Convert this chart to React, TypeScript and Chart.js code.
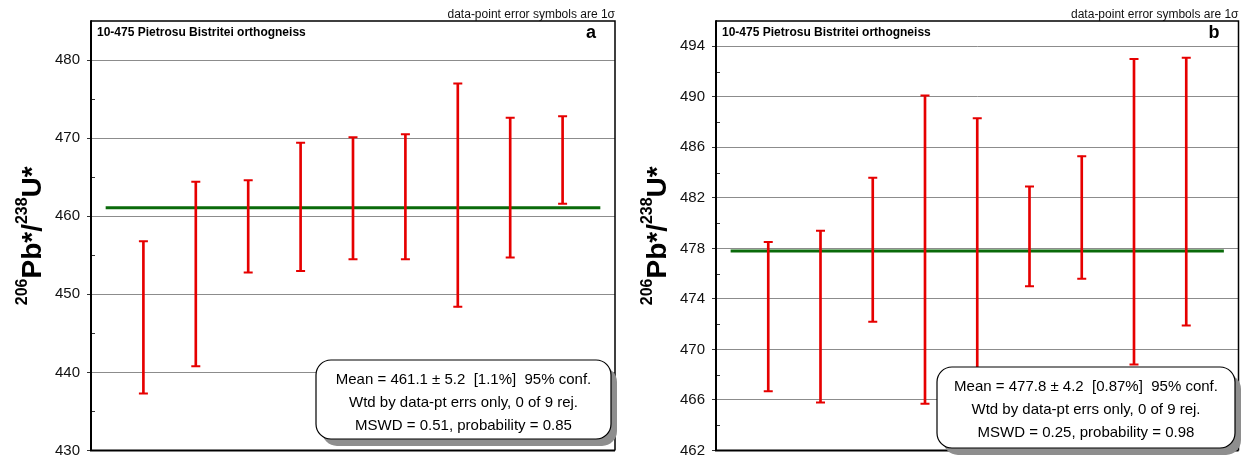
import React, { useEffect, useRef } from "react";
import { Chart, registerables } from "chart.js";

Chart.register(...registerables);

// ---------- data ----------
const positions = [1, 2, 3, 4, 5, 6, 7, 8, 9];

const leftHigh = [456.8, 464.4, 464.6, 469.4, 470.1, 470.5, 477.0, 472.6, 472.8];
const leftLow = [437.3, 440.8, 452.8, 453.0, 454.5, 454.5, 448.4, 454.7, 461.6];
const leftMean = 461.1;

const rightHigh = [478.5, 479.4, 483.6, 490.1, 488.3, 482.9, 485.3, 493.0, 493.1];
const rightLow = [466.7, 465.8, 472.2, 465.7, 466.4, 475.0, 475.6, 468.8, 471.9];
const rightMean = 477.8;

const meanSpan = [0.28, 9.72];

const leftTicks = { min: 430, max: 485, step: 5, major: 10 };
const rightTicks = { min: 462, max: 496, step: 2, major: 4 };

const sampleTitle = "10-475 Pietrosu Bistritei orthogneiss";
const sigmaNote = "data-point error symbols are 1σ";
const leftStats = [
  "Mean = 461.1 ± 5.2  [1.1%]  95% conf.",
  "Wtd by data-pt errs only, 0 of 9 rej.",
  "MSWD = 0.51, probability = 0.85",
];
const rightStats = [
  "Mean = 477.8 ± 4.2  [0.87%]  95% conf.",
  "Wtd by data-pt errs only, 0 of 9 rej.",
  "MSWD = 0.25, probability = 0.98",
];
const titleParts: [string, boolean][] = [
  ["206", true],
  ["Pb*/", false],
  ["238", true],
  ["U*", false],
];

// ---------- styling ----------
const FONT = "'Liberation Sans', Arial, Helvetica, sans-serif";
const RED = "#e60000";
const GREEN = "#0a6a0a";
const GRID = "#8c8c8c";

type PanelCfg = {
  high: number[];
  low: number[];
  mean: number;
  ticks: { min: number; max: number; step: number; major: number };
  letter: string;
  stats: string[];
  canvasLeft: number;
  canvasWidth: number;
  yWidth: number;
  padRight: number;
  box: { left: number; top: number; w: number; h: number };
};

const panels: PanelCfg[] = [
  {
    high: leftHigh,
    low: leftLow,
    mean: leftMean,
    ticks: leftTicks,
    letter: "a",
    stats: leftStats,
    canvasLeft: 0,
    canvasWidth: 622,
    yWidth: 91,
    padRight: 7,
    box: { left: 225, top: 339, w: 295, h: 79 },
  },
  {
    high: rightHigh,
    low: rightLow,
    mean: rightMean,
    ticks: rightTicks,
    letter: "b",
    stats: rightStats,
    canvasLeft: 622,
    canvasWidth: 623,
    yWidth: 94,
    padRight: 6,
    box: { left: 221, top: 346, w: 298, h: 81 },
  },
];

const isMajor = (v: number, t: PanelCfg["ticks"]) =>
  Math.abs(((v - t.min) % t.major + t.major) % t.major) < 1e-6;

function roundRect(ctx: CanvasRenderingContext2D, x: number, y: number, w: number, h: number, r: number) {
  ctx.beginPath();
  ctx.moveTo(x + r, y);
  ctx.lineTo(x + w - r, y);
  ctx.arcTo(x + w, y, x + w, y + r, r);
  ctx.lineTo(x + w, y + h - r);
  ctx.arcTo(x + w, y + h, x + w - r, y + h, r);
  ctx.lineTo(x + r, y + h);
  ctx.arcTo(x, y + h, x, y + h - r, r);
  ctx.lineTo(x, y + r);
  ctx.arcTo(x, y, x + r, y, r);
  ctx.closePath();
}

function decorPlugin(p: PanelCfg) {
  return {
    id: "decor",
    afterDraw(chart: any) {
      const { ctx, chartArea: a, scales } = chart;
      const ys = scales.y;
      ctx.save();

      // minor ticks drawn inside the axis
      ctx.strokeStyle = "#333";
      ctx.lineWidth = 1;
      ys.ticks.forEach((t: any) => {
        if (isMajor(t.value, p.ticks) || t.value === p.ticks.max) return;
        const py = Math.round(ys.getPixelForValue(t.value)) + 0.5;
        ctx.beginPath();
        ctx.moveTo(a.left, py);
        ctx.lineTo(a.left + 4, py);
        ctx.stroke();
      });

      // frame
      ctx.strokeStyle = "#000";
      ctx.lineWidth = 1.5;
      ctx.beginPath();
      ctx.moveTo(a.left, a.top);
      ctx.lineTo(a.right, a.top);
      ctx.lineTo(a.right, a.bottom);
      ctx.stroke();
      ctx.lineWidth = 2;
      ctx.beginPath();
      ctx.moveTo(a.left, a.top - 0.75);
      ctx.lineTo(a.left, a.bottom);
      ctx.lineTo(a.right, a.bottom);
      ctx.stroke();

      // header texts
      ctx.fillStyle = "#000";
      ctx.textBaseline = "alphabetic";
      ctx.textAlign = "left";
      ctx.font = `bold 12px ${FONT}`;
      ctx.fillText(sampleTitle, a.left + 6, a.top + 15);
      ctx.textAlign = "right";
      ctx.font = `bold 18px ${FONT}`;
      ctx.fillText(p.letter, a.right - 19, a.top + 17);
      ctx.font = `12px ${FONT}`;
      ctx.fillStyle = "#111";
      ctx.fillText(sigmaNote, a.right, a.top - 3.5);

      // stats box with shadow
      const bx = a.left + p.box.left;
      const by = a.top + p.box.top;
      ctx.fillStyle = "#8e8e8e";
      roundRect(ctx, bx + 6, by + 7, p.box.w, p.box.h, 15);
      ctx.fill();
      ctx.fillStyle = "#fff";
      roundRect(ctx, bx, by, p.box.w, p.box.h, 15);
      ctx.fill();
      ctx.strokeStyle = "#000";
      ctx.lineWidth = 1.2;
      ctx.stroke();
      ctx.fillStyle = "#000";
      ctx.textAlign = "center";
      ctx.font = `15px ${FONT}`;
      p.stats.forEach((s, i) => {
        ctx.fillText(s, bx + p.box.w / 2, by + 24 + i * 23);
      });

      // y-axis title
      const mainFont = `bold 28px ${FONT}`;
      const supFont = `bold 16px ${FONT}`;
      let total = 0;
      titleParts.forEach(([t, sup]) => {
        ctx.font = sup ? supFont : mainFont;
        total += ctx.measureText(t).width;
      });
      ctx.translate(a.left - 50, (a.top + a.bottom) / 2);
      ctx.rotate(-Math.PI / 2);
      ctx.textAlign = "left";
      let x = -total / 2;
      titleParts.forEach(([t, sup]) => {
        ctx.font = sup ? supFont : mainFont;
        ctx.fillText(t, x, sup ? -14 : 0);
        x += ctx.measureText(t).width;
      });

      ctx.restore();
    },
  };
}

function Panel({ cfg }: { cfg: PanelCfg }) {
  const ref = useRef<HTMLCanvasElement>(null);

  useEffect(() => {
    if (!ref.current) return;
    const t = cfg.ticks;
    const chart = new Chart(ref.current, {
      type: "bar",
      data: {
        datasets: [
          {
            type: "line",
            data: meanSpan.map((x) => ({ x, y: cfg.mean })),
            borderColor: GREEN,
            borderWidth: 3,
            pointRadius: 0,
            order: 5,
          } as any,
          {
            type: "bar",
            data: positions.map((x, i) => ({ x, y: [cfg.low[i], cfg.high[i]] })),
            backgroundColor: RED,
            borderWidth: 0,
            barThickness: 2,
            order: 2,
          } as any,
          {
            type: "scatter",
            data: positions.map((x, i) => ({ x, y: cfg.high[i] })),
            pointStyle: "line",
            pointRadius: 4.5,
            borderColor: RED,
            borderWidth: 2,
            order: 1,
          } as any,
          {
            type: "scatter",
            data: positions.map((x, i) => ({ x, y: cfg.low[i] })),
            pointStyle: "line",
            pointRadius: 4.5,
            borderColor: RED,
            borderWidth: 2,
            order: 1,
          } as any,
        ],
      },
      options: {
        responsive: false,
        animation: false,
        devicePixelRatio: 1,
        layout: { padding: { left: 0, right: cfg.padRight, top: 21, bottom: 5 } },
        plugins: { legend: { display: false }, tooltip: { enabled: false } },
        scales: {
          x: { type: "linear", min: 0, max: 10, offset: false, display: false },
          y: {
            type: "linear",
            min: t.min,
            max: t.max,
            border: { display: false },
            afterFit: (s: any) => {
              s.width = cfg.yWidth;
              s.paddingTop = 0;
              s.paddingBottom = 0;
            },
            grid: {
              color: (c: any) => (isMajor(c.tick.value, t) ? GRID : "rgba(0,0,0,0)"),
              tickColor: (c: any) => (isMajor(c.tick.value, t) ? "#333" : "rgba(0,0,0,0)"),
              lineWidth: 1,
              tickLength: 4,
              drawTicks: true,
            },
            ticks: {
              stepSize: t.step,
              autoSkip: false,
              padding: 7,
              color: "#111",
              font: { family: FONT, size: 15 },
              callback: (v: any) => (isMajor(Number(v), t) ? String(v) : ""),
            },
          },
        },
      } as any,
      plugins: [decorPlugin(cfg)],
    });
    return () => chart.destroy();
  }, [cfg]);

  return (
    <canvas
      ref={ref}
      width={cfg.canvasWidth}
      height={457}
      style={{
        position: "absolute",
        left: cfg.canvasLeft,
        top: 0,
        width: cfg.canvasWidth,
        height: 457,
      }}
    />
  );
}

export default function App() {
  return (
    <div
      style={{
        position: "fixed",
        left: 0,
        top: 0,
        width: 1245,
        height: 457,
        overflow: "hidden",
        background: "#fff",
      }}
    >
      {panels.map((p) => (
        <Panel key={p.letter} cfg={p} />
      ))}
    </div>
  );
}
